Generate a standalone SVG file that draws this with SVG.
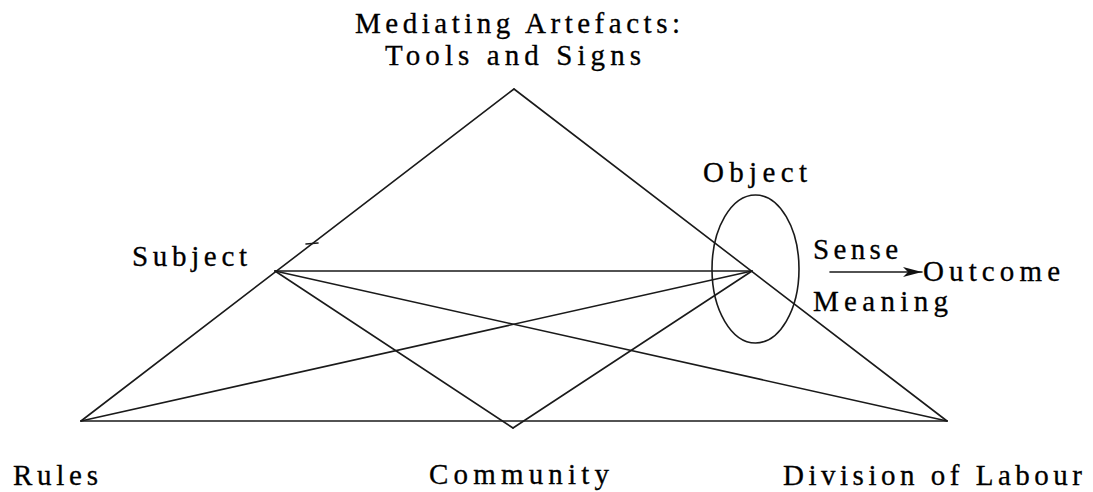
<svg xmlns="http://www.w3.org/2000/svg" width="1093" height="492" viewBox="0 0 1093 492">
<style>
.l{stroke:#1a1a1a;stroke-width:1.6;fill:none;stroke-linecap:round}
.t{font-family:"Liberation Serif","Times New Roman",serif;font-size:29px;fill:#000;stroke:#000;stroke-width:0.3}
</style>
<defs>
<marker id="ah" markerWidth="22" markerHeight="12" refX="19" refY="5" orient="auto" markerUnits="userSpaceOnUse">
<path d="M0,0 L19,5 L0,10 L5,5 Z" fill="#111"/>
</marker>
</defs>
<rect width="1093" height="492" fill="#fff"/>
<g id="connectors">
<line class="l" x1="514" y1="89" x2="81" y2="421"/>
<line class="l" x1="514" y1="89" x2="947" y2="421"/>
<line class="l" x1="81" y1="421" x2="947" y2="421"/>
<line class="l" x1="275" y1="271" x2="752" y2="271"/>
<line class="l" x1="275" y1="271" x2="513" y2="428"/>
<line class="l" x1="275" y1="271" x2="947" y2="421"/>
<line class="l" x1="752" y1="271" x2="81" y2="421"/>
<line class="l" x1="752" y1="271" x2="513" y2="428"/>
<line class="l" x1="306" y1="244" x2="318" y2="243"/>
<line class="l" x1="830" y1="272" x2="922" y2="272" marker-end="url(#ah)"/>
</g>
<g id="mediating">
<text class="t" x="355" y="33" textLength="325" lengthAdjust="spacing">Mediating Artefacts:</text>
<text class="t" x="385" y="65" textLength="256" lengthAdjust="spacing">Tools and Signs</text>
</g>
<g id="subject">
<text class="t" x="132" y="266" textLength="115" lengthAdjust="spacing">Subject</text>
</g>
<g id="object">
<ellipse class="l" cx="755.5" cy="269" rx="43.5" ry="74"/>
<text class="t" x="703" y="182" textLength="104" lengthAdjust="spacing">Object</text>
</g>
<g id="sense">
<text class="t" x="813" y="259" textLength="85" lengthAdjust="spacing">Sense</text>
<text class="t" x="813" y="311" textLength="135" lengthAdjust="spacing">Meaning</text>
</g>
<g id="outcome">
<text class="t" x="923" y="281" textLength="137" lengthAdjust="spacing">Outcome</text>
</g>
<g id="rules">
<text class="t" x="13" y="485" textLength="85" lengthAdjust="spacing">Rules</text>
</g>
<g id="community">
<text class="t" x="429" y="484" textLength="180" lengthAdjust="spacing">Community</text>
</g>
<g id="division">
<text class="t" x="783" y="485" textLength="299" lengthAdjust="spacing">Division of Labour</text>
</g>
</svg>
